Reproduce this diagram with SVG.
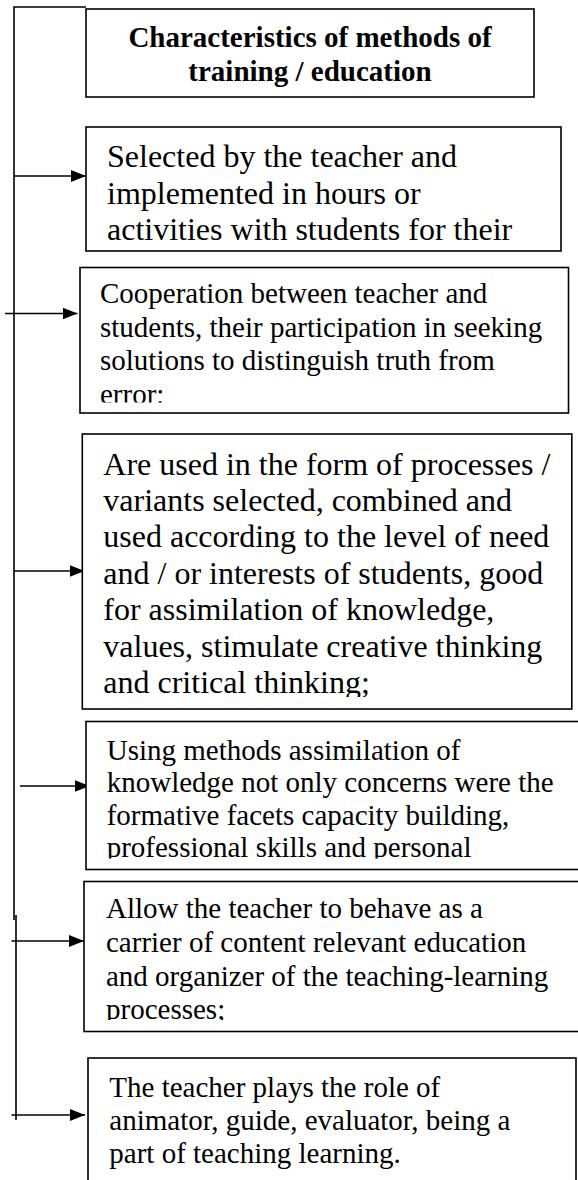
<svg xmlns="http://www.w3.org/2000/svg" width="578" height="1180" viewBox="0 0 578 1180">
  <style>
    .box { fill: #ffffff; stroke: #000000; stroke-width: 1.6; }
    .line { fill: none; stroke: #000000; stroke-width: 1.6; }
    .title { font-family: "Liberation Serif", "Times New Roman", serif; font-weight: bold; font-size: 29px; fill: #000000; text-anchor: middle; }
    .t32 { font-family: "Liberation Serif", "Times New Roman", serif; font-size: 32px; fill: #000000; }
    .t29 { font-family: "Liberation Serif", "Times New Roman", serif; font-size: 29px; fill: #000000; }
  </style>
  <defs>
    <marker id="arrowhead" markerUnits="userSpaceOnUse" markerWidth="16" markerHeight="14" refX="15" refY="7" orient="auto">
      <path d="M0,1 L15,7 L0,13 Z" fill="#000000"/>
    </marker>
    <!-- text areas are cut off at the lower edge of each box -->
    <clipPath id="clip-c3"><rect x="80" y="268" width="488" height="134.5"/></clipPath>
    <clipPath id="clip-c4"><rect x="82" y="436" width="490" height="261"/></clipPath>
    <clipPath id="clip-c5"><rect x="86" y="722" width="500" height="136.5"/></clipPath>
    <clipPath id="clip-c6"><rect x="84" y="882" width="500" height="138"/></clipPath>
  </defs>

  <rect width="578" height="1180" fill="#ffffff"/>

  <!-- connectors -->
  <g id="connectors">
    <path class="line" d="M86,7 H14 V920"/>
    <path class="line" d="M16,915 V1120"/>
    <line class="line" x1="14" y1="176" x2="86" y2="176" marker-end="url(#arrowhead)"/>
    <line class="line" x1="5" y1="313.5" x2="77.5" y2="313.5" marker-end="url(#arrowhead)"/>
    <line class="line" x1="14" y1="571" x2="84.5" y2="571" marker-end="url(#arrowhead)"/>
    <line class="line" x1="20" y1="786" x2="89.5" y2="786" marker-end="url(#arrowhead)"/>
    <line class="line" x1="11.5" y1="941" x2="84" y2="941" marker-end="url(#arrowhead)"/>
    <line class="line" x1="11.5" y1="1115" x2="85" y2="1115" marker-end="url(#arrowhead)"/>
  </g>

  <g id="title">
    <rect class="box" x="86" y="9" width="448" height="88"/>
    <text class="title" x="310" y="47">Characteristics of methods of</text>
    <text class="title" x="310" y="81">training / education</text>
  </g>

  <g id="c1">
    <rect class="box" x="86" y="127" width="475" height="124"/>
    <text class="t32" x="107" y="167">Selected by the teacher and</text>
    <text class="t32" x="107" y="203.5">implemented in hours or</text>
    <text class="t32" x="107" y="240">activities with students for their</text>
  </g>

  <g id="c2">
    <rect class="box" x="80" y="267.5" width="488.5" height="145.5"/>
    <g clip-path="url(#clip-c3)">
      <text class="t29" x="100" y="303.3">Cooperation between teacher and</text>
      <text class="t29" x="100" y="336.7">students, their participation in seeking</text>
      <text class="t29" x="100" y="370">solutions to distinguish truth from</text>
      <text class="t29" x="100" y="404">error;</text>
    </g>
  </g>

  <g id="c3">
    <rect class="box" x="82.3" y="434" width="489.5" height="275"/>
    <g clip-path="url(#clip-c4)">
      <text class="t32" x="103.3" y="475">Are used in the form of processes /</text>
      <text class="t32" x="103.3" y="511">variants selected, combined and</text>
      <text class="t32" x="103.3" y="547">used according to the level of need</text>
      <text class="t32" x="103.3" y="583.5">and / or interests of students, good</text>
      <text class="t32" x="103.3" y="620">for assimilation of knowledge,</text>
      <text class="t32" x="103.3" y="656.5">values, stimulate creative thinking</text>
      <text class="t32" x="103.3" y="693">and critical thinking;</text>
    </g>
  </g>

  <g id="c4">
    <rect class="box" x="86" y="721.5" width="510" height="148"/>
    <g clip-path="url(#clip-c5)">
      <text class="t29" x="106.7" y="760">Using methods assimilation of</text>
      <text class="t29" x="106.7" y="792">knowledge not only concerns were the</text>
      <text class="t29" x="106.7" y="825">formative facets capacity building,</text>
      <text class="t29" x="106.7" y="857">professional skills and personal</text>
    </g>
  </g>

  <g id="c5">
    <rect class="box" x="84" y="881.5" width="510" height="150"/>
    <g clip-path="url(#clip-c6)">
      <text class="t29" x="106" y="918.3">Allow the teacher to behave as a</text>
      <text class="t29" x="106" y="952">carrier of content relevant education</text>
      <text class="t29" x="106" y="985.5">and organizer of the teaching-learning</text>
      <text class="t29" x="106" y="1019">processes;</text>
    </g>
  </g>

  <g id="c6">
    <rect class="box" x="88" y="1058" width="488" height="160"/>
    <text class="t29" x="109.3" y="1096.7">The teacher plays the role of</text>
    <text class="t29" x="109.3" y="1130">animator, guide, evaluator, being a</text>
    <text class="t29" x="109.3" y="1163.3">part of teaching learning.</text>
  </g>
</svg>
